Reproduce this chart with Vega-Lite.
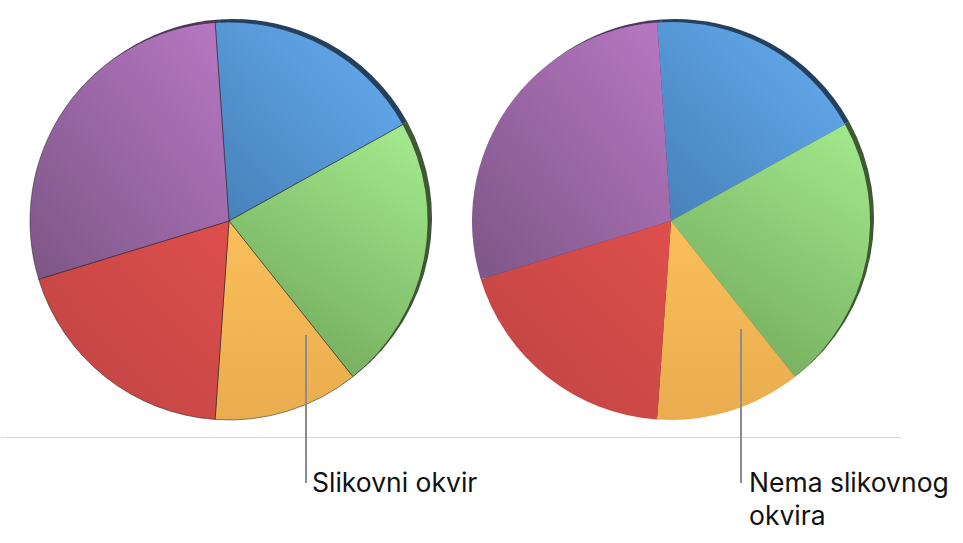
{
  "$schema": "https://vega.github.io/schema/vega-lite/v6.json",
  "padding": 0,
  "background": "white",
  "spacing": 0,
  "bounds": "flush",
  "config": {"view": {"stroke": null}, "font": "Inter", "concat": {"spacing": 0}},
  "datasets": {
    "slices": [
      {"slice": "Plava", "share": 65, "order": 1},
      {"slice": "Zelena", "share": 80.5, "order": 2},
      {"slice": "Žuta", "share": 42.5, "order": 3},
      {"slice": "Crvena", "share": 69, "order": 4},
      {"slice": "Ljubičasta", "share": 103, "order": 5}
    ],
    "baseline": [{"x": 0, "x2": 456, "y": 437.5}],
    "baseline_r": [{"x": 0, "x2": 444, "y": 437.5}],
    "leader_l": [{"x": 305, "y": 335, "y2": 483}],
    "leader_r": [{"x": 284, "y": 329, "y2": 483}],
    "label_l": [{"x": 311, "y": 492, "text": "Slikovni okvir"}],
    "label_r": [
      {"x": 292, "y": 492, "text": "Nema slikovnog"},
      {"x": 292, "y": 525, "text": "okvira"}
    ]
  },
  "hconcat": [
    {
      "width": 456,
      "height": 442,
      "layer": [
        {
          "data": {"name": "slices"},
          "transform": [{"stack": "share", "groupby": [], "as": ["t0", "t1"], "sort": [{"field": "order", "order": "ascending"}]}],
          "mark": {"type": "arc", "outerRadius": 199, "xOffset": 4, "yOffset": -3},
          "encoding": {
            "theta": {"field": "t0", "type": "quantitative", "scale": {"domain": [0, 360], "range": [-0.0698, 6.2134]}},
            "theta2": {"field": "t1"},
            "color": {"field": "slice", "type": "nominal", "legend": null,
              "scale": {"domain": ["Plava", "Zelena", "Žuta", "Crvena", "Ljubičasta"],
                        "range": ["#24405e", "#3f5a32", "#8a6a2c", "#6e2a2a", "#4e3558"]}}
          }
        },
        {
          "data": {"name": "slices"},
          "transform": [{"stack": "share", "groupby": [], "as": ["t0", "t1"], "sort": [{"field": "order", "order": "ascending"}]}, {"filter": "datum.slice == 'Plava'"}],
          "mark": {"type": "arc", "outerRadius": 199, "stroke": "#2a2a2a", "strokeWidth": 1, "strokeOpacity": 0.55,
            "fill": {"gradient": "linear", "x1": 1, "y1": 0, "x2": 0, "y2": 1, "stops": [{"offset": 0, "color": "#67aef3"}, {"offset": 1, "color": "#4680b8"}]}},
          "encoding": {"theta": {"field": "t0", "type": "quantitative"}, "theta2": {"field": "t1"}}
        },
        {
          "data": {"name": "slices"},
          "transform": [{"stack": "share", "groupby": [], "as": ["t0", "t1"], "sort": [{"field": "order", "order": "ascending"}]}, {"filter": "datum.slice == 'Zelena'"}],
          "mark": {"type": "arc", "outerRadius": 199, "stroke": "#2a2a2a", "strokeWidth": 1, "strokeOpacity": 0.55,
            "fill": {"gradient": "linear", "x1": 0.8, "y1": 0, "x2": 0.3, "y2": 1, "stops": [{"offset": 0, "color": "#a2e88c"}, {"offset": 1, "color": "#72a95b"}]}},
          "encoding": {"theta": {"field": "t0", "type": "quantitative"}, "theta2": {"field": "t1"}}
        },
        {
          "data": {"name": "slices"},
          "transform": [{"stack": "share", "groupby": [], "as": ["t0", "t1"], "sort": [{"field": "order", "order": "ascending"}]}, {"filter": "datum.slice == 'Žuta'"}],
          "mark": {"type": "arc", "outerRadius": 199, "stroke": "#2a2a2a", "strokeWidth": 1, "strokeOpacity": 0.55,
            "fill": {"gradient": "linear", "x1": 0.5, "y1": 0, "x2": 0.5, "y2": 1, "stops": [{"offset": 0, "color": "#fbbe5b"}, {"offset": 1, "color": "#e9ad4f"}]}},
          "encoding": {"theta": {"field": "t0", "type": "quantitative"}, "theta2": {"field": "t1"}}
        },
        {
          "data": {"name": "slices"},
          "transform": [{"stack": "share", "groupby": [], "as": ["t0", "t1"], "sort": [{"field": "order", "order": "ascending"}]}, {"filter": "datum.slice == 'Crvena'"}],
          "mark": {"type": "arc", "outerRadius": 199, "stroke": "#2a2a2a", "strokeWidth": 1, "strokeOpacity": 0.55,
            "fill": {"gradient": "linear", "x1": 1, "y1": 0, "x2": 0, "y2": 1, "stops": [{"offset": 0, "color": "#de4f4c"}, {"offset": 1, "color": "#bd4443"}]}},
          "encoding": {"theta": {"field": "t0", "type": "quantitative"}, "theta2": {"field": "t1"}}
        },
        {
          "data": {"name": "slices"},
          "transform": [{"stack": "share", "groupby": [], "as": ["t0", "t1"], "sort": [{"field": "order", "order": "ascending"}]}, {"filter": "datum.slice == 'Ljubičasta'"}],
          "mark": {"type": "arc", "outerRadius": 199, "stroke": "#2a2a2a", "strokeWidth": 1, "strokeOpacity": 0.55,
            "fill": {"gradient": "linear", "x1": 1, "y1": 0, "x2": 0, "y2": 1, "stops": [{"offset": 0, "color": "#b878c4"}, {"offset": 1, "color": "#7d5686"}]}},
          "encoding": {"theta": {"field": "t0", "type": "quantitative"}, "theta2": {"field": "t1"}}
        },
        {
          "data": {"name": "baseline"},
          "mark": {"type": "rule", "color": "#d4d4d4", "strokeWidth": 1},
          "encoding": {
            "x": {"field": "x", "type": "quantitative", "scale": {"domain": [0, 456], "nice": false, "zero": false}, "axis": null},
            "x2": {"field": "x2"},
            "y": {"field": "y", "type": "quantitative", "scale": {"domain": [0, 442], "nice": false, "zero": false, "reverse": true}, "axis": null}
          }
        },
        {
          "data": {"name": "leader_l"},
          "mark": {"type": "rule", "color": "#8c8c8c", "strokeWidth": 2},
          "encoding": {
            "x": {"field": "x", "type": "quantitative"},
            "y": {"field": "y", "type": "quantitative"},
            "y2": {"field": "y2"}
          }
        },
        {
          "data": {"name": "label_l"},
          "mark": {"type": "text", "align": "left", "baseline": "alphabetic", "fontSize": 26.5, "color": "#111111"},
          "encoding": {
            "x": {"field": "x", "type": "quantitative"},
            "y": {"field": "y", "type": "quantitative"},
            "text": {"field": "text"}
          }
        }
      ]
    },
    {
      "width": 428,
      "height": 442,
      "layer": [
        {
          "data": {"name": "slices"},
          "transform": [{"stack": "share", "groupby": [], "as": ["t0", "t1"], "sort": [{"field": "order", "order": "ascending"}]}],
          "mark": {"type": "arc", "outerRadius": 199, "xOffset": 4, "yOffset": -3},
          "encoding": {
            "theta": {"field": "t0", "type": "quantitative", "scale": {"domain": [0, 360], "range": [-0.0698, 6.2134]}},
            "theta2": {"field": "t1"},
            "color": {"field": "slice", "type": "nominal", "legend": null,
              "scale": {"domain": ["Plava", "Zelena", "Žuta", "Crvena", "Ljubičasta"],
                        "range": ["#24405e", "#3f5a32", "#8a6a2c", "#6e2a2a", "#4e3558"]}}
          }
        },
        {
          "data": {"name": "slices"},
          "transform": [{"stack": "share", "groupby": [], "as": ["t0", "t1"], "sort": [{"field": "order", "order": "ascending"}]}, {"filter": "datum.slice == 'Plava'"}],
          "mark": {"type": "arc", "outerRadius": 199,
            "fill": {"gradient": "linear", "x1": 1, "y1": 0, "x2": 0, "y2": 1, "stops": [{"offset": 0, "color": "#67aef3"}, {"offset": 1, "color": "#4680b8"}]}},
          "encoding": {"theta": {"field": "t0", "type": "quantitative"}, "theta2": {"field": "t1"}}
        },
        {
          "data": {"name": "slices"},
          "transform": [{"stack": "share", "groupby": [], "as": ["t0", "t1"], "sort": [{"field": "order", "order": "ascending"}]}, {"filter": "datum.slice == 'Zelena'"}],
          "mark": {"type": "arc", "outerRadius": 199,
            "fill": {"gradient": "linear", "x1": 0.8, "y1": 0, "x2": 0.3, "y2": 1, "stops": [{"offset": 0, "color": "#a0e68a"}, {"offset": 1, "color": "#74ab5d"}]}},
          "encoding": {"theta": {"field": "t0", "type": "quantitative"}, "theta2": {"field": "t1"}}
        },
        {
          "data": {"name": "slices"},
          "transform": [{"stack": "share", "groupby": [], "as": ["t0", "t1"], "sort": [{"field": "order", "order": "ascending"}]}, {"filter": "datum.slice == 'Žuta'"}],
          "mark": {"type": "arc", "outerRadius": 199,
            "fill": {"gradient": "linear", "x1": 0.5, "y1": 0, "x2": 0.5, "y2": 1, "stops": [{"offset": 0, "color": "#fbbe5b"}, {"offset": 1, "color": "#e9ad4f"}]}},
          "encoding": {"theta": {"field": "t0", "type": "quantitative"}, "theta2": {"field": "t1"}}
        },
        {
          "data": {"name": "slices"},
          "transform": [{"stack": "share", "groupby": [], "as": ["t0", "t1"], "sort": [{"field": "order", "order": "ascending"}]}, {"filter": "datum.slice == 'Crvena'"}],
          "mark": {"type": "arc", "outerRadius": 199,
            "fill": {"gradient": "linear", "x1": 1, "y1": 0, "x2": 0, "y2": 1, "stops": [{"offset": 0, "color": "#de4f4c"}, {"offset": 1, "color": "#bd4443"}]}},
          "encoding": {"theta": {"field": "t0", "type": "quantitative"}, "theta2": {"field": "t1"}}
        },
        {
          "data": {"name": "slices"},
          "transform": [{"stack": "share", "groupby": [], "as": ["t0", "t1"], "sort": [{"field": "order", "order": "ascending"}]}, {"filter": "datum.slice == 'Ljubičasta'"}],
          "mark": {"type": "arc", "outerRadius": 199,
            "fill": {"gradient": "linear", "x1": 1, "y1": 0, "x2": 0, "y2": 1, "stops": [{"offset": 0, "color": "#b878c4"}, {"offset": 1, "color": "#7d5686"}]}},
          "encoding": {"theta": {"field": "t0", "type": "quantitative"}, "theta2": {"field": "t1"}}
        },
        {
          "data": {"name": "baseline_r"},
          "mark": {"type": "rule", "color": "#d4d4d4", "strokeWidth": 1},
          "encoding": {
            "x": {"field": "x", "type": "quantitative", "scale": {"domain": [0, 428], "nice": false, "zero": false}, "axis": null},
            "x2": {"field": "x2"},
            "y": {"field": "y", "type": "quantitative", "scale": {"domain": [0, 442], "nice": false, "zero": false, "reverse": true}, "axis": null}
          }
        },
        {
          "data": {"name": "leader_r"},
          "mark": {"type": "rule", "color": "#8c8c8c", "strokeWidth": 2},
          "encoding": {
            "x": {"field": "x", "type": "quantitative"},
            "y": {"field": "y", "type": "quantitative"},
            "y2": {"field": "y2"}
          }
        },
        {
          "data": {"name": "label_r"},
          "mark": {"type": "text", "align": "left", "baseline": "alphabetic", "fontSize": 26.5, "color": "#111111"},
          "encoding": {
            "x": {"field": "x", "type": "quantitative"},
            "y": {"field": "y", "type": "quantitative"},
            "text": {"field": "text"}
          }
        }
      ]
    }
  ]
}
